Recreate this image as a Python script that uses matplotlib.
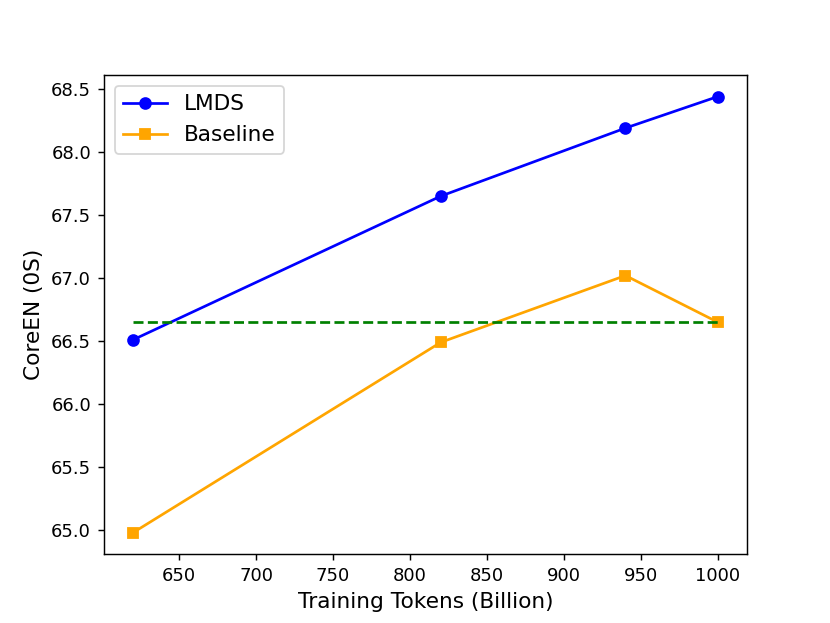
import matplotlib
matplotlib.use("Agg")
import matplotlib.pyplot as plt

tokens = [620, 820, 940, 1000]
lmds = [66.51, 67.65, 68.19, 68.44]
baseline = [64.98, 66.49, 67.02, 66.65]
ref_level = 66.65

fig, ax = plt.subplots(figsize=(830 / 130, 623 / 130))
ax.plot(tokens, lmds, color="blue", marker="o", label="LMDS")
ax.plot(tokens, baseline, color="orange", marker="s", label="Baseline")
ax.plot([tokens[0], tokens[-1]], [ref_level, ref_level], color="green", linestyle="--")
ax.set_xlabel("Training Tokens (Billion)", fontsize=12)
ax.set_ylabel("CoreEN (0S)", fontsize=12)
ax.legend(fontsize=12)
fig.savefig("out.png", dpi=130)
